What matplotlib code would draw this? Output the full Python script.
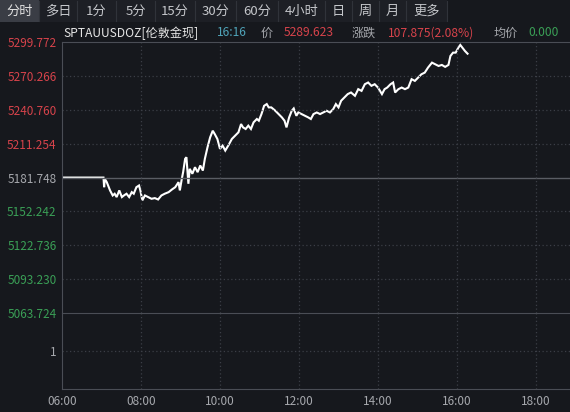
import matplotlib
matplotlib.use('Agg')
import matplotlib.pyplot as plt
from matplotlib.patches import Rectangle

plt.rcParams['font.family'] = ['Noto Sans CJK SC', 'DejaVu Sans']

# ---- data ----
times = ['06:00', '07:03', '07:04', '07:05', '07:08', '07:13', '07:17', '07:20', '07:23', '07:27',
         '07:31', '07:34', '07:38', '07:42', '07:46', '07:49', '07:53', '07:57', '07:59', '08:02',
         '08:06', '08:11', '08:16', '08:21', '08:26', '08:31', '08:36', '08:42', '08:47', '08:52',
         '08:57', '08:59', '09:02', '09:04', '09:07', '09:09', '09:11', '09:12', '09:14', '09:18',
         '09:22', '09:26', '09:30', '09:34', '09:37', '09:41', '09:45', '09:49', '09:52', '09:56',
         '10:00', '10:04', '10:08', '10:13', '10:18', '10:23', '10:28', '10:32', '10:35', '10:39',
         '10:43', '10:47', '10:51', '10:56', '10:59', '11:03', '11:07', '11:11', '11:14', '11:18',
         '11:24', '11:29', '11:34', '11:38', '11:41', '11:45', '11:49', '11:52', '11:56', '11:59',
         '12:04', '12:09', '12:14', '12:18', '12:22', '12:27', '12:32', '12:37', '12:42', '12:47',
         '12:52', '12:56', '13:00', '13:04', '13:09', '13:14', '13:19', '13:25', '13:30', '13:35',
         '13:40', '13:45', '13:50', '13:55', '14:00', '14:06', '14:10', '14:14', '14:19', '14:23',
         '14:26', '14:31', '14:36', '14:41', '14:46', '14:51', '14:56', '15:01', '15:06', '15:11',
         '15:16', '15:22', '15:27', '15:32', '15:37', '15:42', '15:47', '15:50', '15:54', '15:58',
         '16:02', '16:05', '16:09', '16:12', '16:16']
prices = [5181.7, 5181.7, 5173.3, 5180.6, 5177.7, 5170.5, 5166.1, 5167.6, 5164.7, 5170.5,
          5164.7, 5166.1, 5167.6, 5164.7, 5169.0, 5167.6, 5173.3, 5174.8, 5170.5, 5161.8,
          5166.1, 5164.7, 5163.2, 5163.8, 5162.6, 5166.1, 5167.6, 5169.0, 5171.3, 5173.3,
          5177.7, 5170.5, 5180.6, 5186.4, 5198.0, 5199.4, 5183.5, 5176.3, 5189.3, 5185.0,
          5190.7, 5186.4, 5192.2, 5187.8, 5198.0, 5208.0, 5216.7, 5222.5, 5219.6, 5215.3,
          5206.7, 5209.5, 5205.2, 5210.0, 5215.3, 5218.2, 5221.1, 5228.3, 5225.4, 5224.0,
          5226.9, 5224.0, 5229.8, 5232.7, 5231.2, 5237.0, 5244.2, 5245.7, 5242.8, 5242.8,
          5239.9, 5237.0, 5234.1, 5231.2, 5225.4, 5234.1, 5239.9, 5241.9, 5235.5, 5238.4,
          5237.0, 5235.5, 5234.1, 5232.7, 5237.0, 5238.4, 5237.0, 5238.4, 5239.9, 5238.4,
          5241.3, 5245.7, 5242.8, 5248.6, 5251.5, 5254.4, 5255.8, 5252.9, 5258.7, 5257.2,
          5263.0, 5264.5, 5261.6, 5263.0, 5260.1, 5254.4, 5258.7, 5260.1, 5263.0, 5264.5,
          5255.8, 5258.7, 5260.1, 5258.7, 5260.1, 5267.4, 5265.9, 5268.8, 5271.7, 5273.1,
          5277.5, 5281.8, 5280.4, 5278.9, 5279.8, 5278.1, 5279.8, 5287.6, 5290.5, 5290.5,
          5294.8, 5297.2, 5294.3, 5292.0, 5289.6]

prev_close = 5181.748
y_ticks = [5299.772, 5270.266, 5240.760, 5211.254, 5181.748, 5152.242, 5122.736, 5093.230, 5063.724]
x_hours = [6, 8, 10, 12, 14, 16, 18]
tabs = ['分时', '多日', '1分', '5分', '15分', '30分', '60分', '4小时', '日', '周', '月', '更多']

BG = '#16181d'
GRID = '#3b3e46'
SPINE = '#4a4d55'
RED = '#d7434b'
GREEN = '#3a9f56'
GRAY = '#a6a8ad'

W, H = 570, 412
fig = plt.figure(figsize=(W / 100, H / 100), dpi=100, facecolor=BG)


def px_axes(x0, y0, x1, y1):
    return fig.add_axes([x0 / W, 1 - y1 / H, (x1 - x0) / W, (y1 - y0) / H])


def to_hours(t):
    h, m = t.split(':')
    return int(h) + int(m) / 60


xs = [to_hours(t) for t in times]
xmax = 6 + (570 - 62) / 39.5

# ---- price panel ----
ax = px_axes(62, 42, 570, 313)
ax.set_facecolor(BG)
ax.set_xlim(6, xmax)
ax.set_ylim(y_ticks[-1], y_ticks[0])
ax.plot(xs, prices, color='white', lw=1.5, solid_joinstyle='miter')
for v in y_ticks[1:-1]:
    if v == prev_close:
        ax.axhline(v, color='#5a5d64', lw=1)
    else:
        ax.axhline(v, color=GRID, lw=0.9, ls=(0, (1, 2)))
for h in x_hours[1:]:
    ax.axvline(h, color=GRID, lw=0.9, ls=(0, (1, 2)))
ax.set_yticks(y_ticks)
ax.set_yticklabels([f'{v:.3f}' for v in y_ticks], fontsize=8.5)
for lbl, v in zip(ax.get_yticklabels(), y_ticks):
    lbl.set_color(RED if v > prev_close + 0.01 else (GRAY if abs(v - prev_close) < 0.01 else GREEN))
ax.set_xticks([])
ax.tick_params(axis='y', length=0, pad=4)
for s in ['right', 'bottom']:
    ax.spines[s].set_visible(False)
for s in ['left', 'top']:
    ax.spines[s].set_color(SPINE)

# ---- lower panel ----
ax2 = px_axes(62, 313, 570, 389)
ax2.set_facecolor(BG)
ax2.set_xlim(6, xmax)
ax2.set_ylim(0, 2)
ax2.axhline(1, color=GRID, lw=0.9, ls=(0, (1, 2)))
for h in x_hours[1:]:
    ax2.axvline(h, color=GRID, lw=0.9, ls=(0, (1, 2)))
ax2.set_yticks([1])
ax2.set_yticklabels(['1'], fontsize=8.5, color=GRAY)
ax2.set_xticks(x_hours)
ax2.set_xticklabels([f'{h:02d}:00' for h in x_hours], fontsize=8.5, color=GRAY)
ax2.tick_params(length=0, pad=4)
ax2.spines['right'].set_visible(False)
for s in ['left', 'top', 'bottom']:
    ax2.spines[s].set_color(SPINE)

# ---- tab bar ----
tab_edges = [0, 39, 77, 116, 155, 195, 236, 278, 325, 352, 379, 406, 447]
fig.patches.append(Rectangle((0, 1 - 22 / H), 447 / W, 22 / H, transform=fig.transFigure,
                             facecolor='#1d1f25', edgecolor='none'))
fig.patches.append(Rectangle((0, 1 - 22 / H), 39 / W, 22 / H, transform=fig.transFigure,
                             facecolor='#3a3d45', edgecolor='none'))
for i, name in enumerate(tabs):
    cx = (tab_edges[i] + tab_edges[i + 1]) / 2
    fig.text(cx / W, 1 - 11 / H, name, ha='center', va='center', fontsize=9.5,
             color='#e0e0e0' if i == 0 else '#c4c6ca')
for e in tab_edges[1:]:
    fig.add_artist(plt.Line2D([e / W, e / W], [1 - 21 / H, 1 - 1 / H], transform=fig.transFigure,
                              color='#30333a', lw=0.8))

# ---- quote line ----
quote = [(63, 'SPTAUUSDOZ[伦敦金现]', '#e6e6e6'), (217, '16:16', '#4fa3b8'), (261, '价', GRAY),
         (284, '5289.623', RED), (352, '涨跌', GRAY), (388, '107.875(2.08%)', RED),
         (494, '均价', GRAY), (528, '0.000', GREEN)]
for x, s, c in quote:
    fig.text(x / W, 1 - 33 / H, s, ha='left', va='center', fontsize=8.7, color=c)

fig.savefig('out.png', dpi=100, facecolor=BG)
